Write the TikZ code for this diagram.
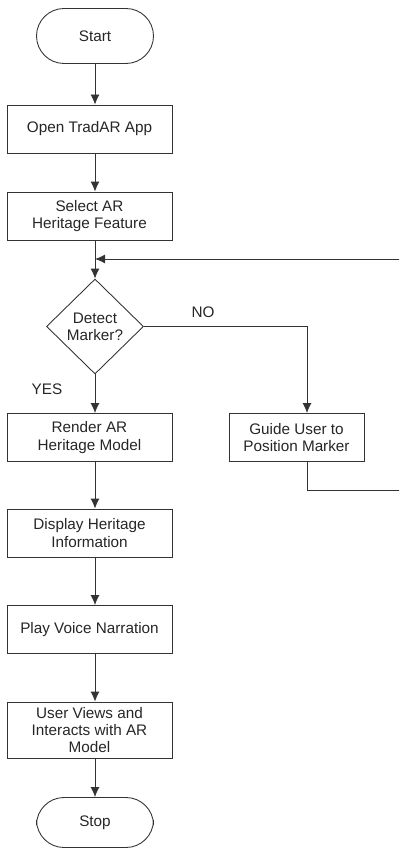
\documentclass[tikz,border=0pt]{standalone}
\usepackage{fontspec}
\setmainfont{Liberation Sans}
\usetikzlibrary{arrows.meta,shapes.geometric}
\begin{document}
\begin{tikzpicture}[x=.02cm,y=-.02cm,
  font=\fontsize{8.7}{9.8}\selectfont,
  line width=.5pt,draw=black!80,text=black!85,
  term/.style={draw,rectangle,rounded corners=.55cm,minimum width=2.34cm,minimum height=1.1cm,inner sep=0pt},
  proc/.style={draw,rectangle,align=center,minimum width=3.3cm,minimum height=.96cm,inner sep=1pt},
  dec/.style={draw,diamond,align=center,minimum width=1.94cm,minimum height=1.9cm,inner sep=0pt},
  arr/.style={black!80,-{Latex[length=2mm,width=1.8mm]}}]
\clip[use as bounding box] (0,0) rectangle (399,857);

\node[term] (start) at (95,36) {Start};
\node[proc] (open) at (89.5,129) {Open TradAR App};
\node[proc] (select) at (89.5,216) {Select AR\\Heritage Feature};
\node[dec] (detect) at (95,326.5) {Detect\\Marker?};
\node[proc] (render) at (89.5,437.5) {Render AR\\Heritage Model};
\node[proc,minimum width=2.7cm] (guide) at (296.5,437.5) {Guide User to\\Position Marker};
\node[proc] (display) at (89.5,533) {Display Heritage\\Information};
\node[proc] (play) at (89.5,629.5) {Play Voice Narration};
\node[proc,minimum height=1.12cm] (user) at (89.5,730) {User Views and\\Interacts with AR\\Model};
\node[term,minimum height=1cm] (stop) at (95,822.5) {Stop};

\node (no) at (203,312) {NO};
\node (yes) at (47,389) {YES};

\coordinate (merge) at (95,259);
\coordinate (far) at (420,490);

\draw[arr] (start) -- (start |- open.north);
\draw[arr] (open.south -| detect) -- (select.north -| detect);
\draw[arr] (select.south -| detect) -- (detect);
\draw[arr] (detect) -- (render.north -| detect);
\draw[arr] (detect.east) -| ([xshift=.21cm]guide.north);
\draw[arr] ([xshift=.21cm]guide.south) |- (far) |- (merge);
\draw[arr] (render.south -| detect) -- (display.north -| detect);
\draw[arr] (display.south -| detect) -- (play.north -| detect);
\draw[arr] (play.south -| detect) -- (user.north -| detect);
\draw[arr] (user.south -| detect) -- (stop);

\end{tikzpicture}
\end{document}
